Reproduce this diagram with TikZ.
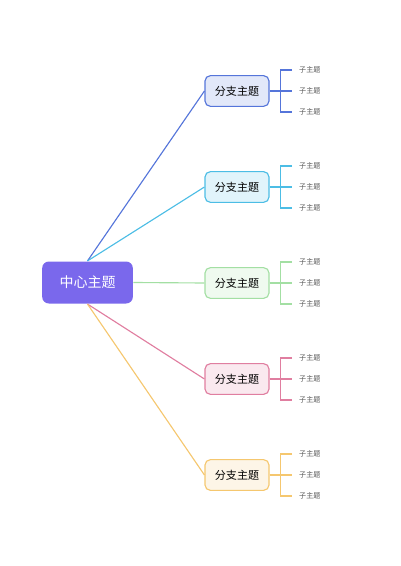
\documentclass[tikz,border=0pt]{standalone}
\usepackage{fontspec}
\setmainfont{Noto Sans CJK SC}
\usepackage{xcolor}
\usepackage{tikz}
\usetikzlibrary{calc}
\definecolor{rootc}{HTML}{7A68EC}
\definecolor{bA}{HTML}{5575DA}
\definecolor{bB}{HTML}{4CBDE5}
\definecolor{bC}{HTML}{A3DFA3}
\definecolor{bD}{HTML}{E07EA0}
\definecolor{bE}{HTML}{F5C76F}
\definecolor{leafc}{HTML}{555555}

\begin{document}
\begin{tikzpicture}[x=0.75pt,y=-0.75pt,line width=0.85pt]
\useasboundingbox (0,0) rectangle (400,566);
\tikzstyle{root}=[rounded corners=5pt, fill=rootc, text=white, minimum width=68pt, minimum height=31.5pt, font=\fontsize{10.5}{12}\selectfont]
\tikzstyle{branch}=[rounded corners=4pt, minimum width=48pt, minimum height=23pt, font=\fontsize{8.3}{10}\selectfont]
\tikzstyle{leaf}=[anchor=west, inner xsep=5pt, inner ysep=1pt, text=leafc, font=\fontsize{5.3}{6}\selectfont]
\node[root] (c) at (87.5,282.5) {中心主题};
\foreach \i/\y/\col/\a in {1/91/bA/north,2/187/bB/north,3/283/bC/east,4/379/bD/south,5/475/bE/south}
       {
        \node[branch, draw=\col, fill=\col!17] (b\i) at (237,\y) {分支主题};
        \node[leaf] (s\i1) at (292,\y-21) {子主题};
        \node[leaf] (s\i2) at (292,\y) {子主题};
        \node[leaf] (s\i3) at (292,\y+21) {子主题};
        \coordinate (k\i) at ($(b\i.east)+(11,0)$);
        \draw[\col] (c.\a) -- (b\i.west);
        \draw[\col] (b\i.east) -- (s\i2.west);
        \draw[\col] (s\i1.west) -- (k\i |- s\i1.west) -- (k\i |- s\i3.west) -- (s\i3.west);
       }
\end{tikzpicture}
\end{document}
